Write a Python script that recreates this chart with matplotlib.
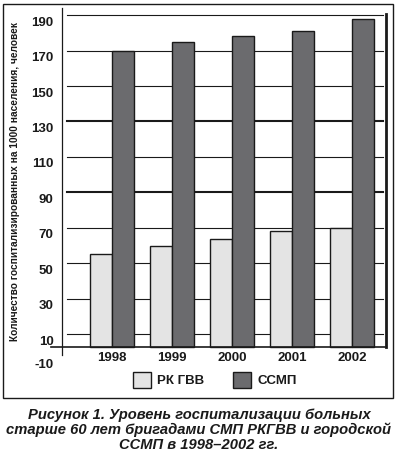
import matplotlib.pyplot as plt
import matplotlib.transforms as mtransforms
from matplotlib.patches import Rectangle, Patch

# Data
years = ['1998', '1999', '2000', '2001', '2002']
rk_gvv = [55, 60, 64, 68, 70]
ssmp = [170, 175, 178, 181, 188]
yticks = [10, 30, 50, 70, 90, 110, 130, 150, 170, 190]
thick_grid = [90, 130]
series_names = ['РК ГВВ', 'ССМП']
caption = ('Рисунок 1. Уровень госпитализации больных\n'
           'старше 60 лет бригадами СМП РКГВВ и городской\n'
           'ССМП в 1998–2002 гг.')
ylabel = 'Количество госпитализированных на 1000 населения, человек'

light = '#e4e4e4'
dark = '#6b6b6e'
ink = '#1a1a1a'
base = 2.7  # where the category axis crosses

plt.rcParams['font.family'] = ['Liberation Sans', 'DejaVu Sans']

W, H = 398, 454
fig = plt.figure(figsize=(W / 100, H / 100), dpi=100)
ax = fig.add_axes([62 / W, 1 - 355 / H, (386 - 62) / W, (355 - 8) / H])
ax.set_xlim(-0.833, 4.567)
ax.set_ylim(-1.7, 194)
for s in ax.spines.values():
    s.set_visible(False)
ax.patch.set_alpha(0)

# grid lines
for t in yticks:
    lw = 1.5 if t in thick_grid else 0.8
    ax.plot([-0.75, 4.52], [t, t], color=ink, lw=lw, zorder=1)

# bars
x = list(range(len(years)))
w = 0.36
ax.bar([i - w / 2 for i in x], [v - base for v in rk_gvv], w, bottom=base,
       color=light, edgecolor=ink, linewidth=1.0, zorder=2, label=series_names[0])
ax.bar([i + w / 2 for i in x], [v - base for v in ssmp], w, bottom=base,
       color=dark, edgecolor=ink, linewidth=1.0, zorder=2, label=series_names[1])

# axis lines
ax.plot([-1.02, 4.55], [base, base], color=ink, lw=1.2, clip_on=False, zorder=3)
ax.plot([-0.833, -0.833], [-1.7, 194], color=ink, lw=0.9, clip_on=False, zorder=3)
ax.plot([4.567, 4.567], [base, 190.5], color=ink, lw=2.0, clip_on=False, zorder=3)

# y tick labels, shifted a bit below their grid lines
ax.set_yticks(yticks)
ax.set_yticklabels([str(t) for t in yticks], fontsize=9.5, fontweight='bold', color=ink)
ax.tick_params(axis='y', length=0, pad=6)
off = mtransforms.ScaledTranslation(0, -6 / 100, fig.dpi_scale_trans)
for lab in ax.get_yticklabels():
    lab.set_transform(lab.get_transform() + off)
ax.text(-0.833, -7.3, '-10', transform=ax.transData + mtransforms.ScaledTranslation(-8 / 100, 0, fig.dpi_scale_trans),
        ha='right', va='center', fontsize=9.5, fontweight='bold', color=ink, clip_on=False)

# category labels
ax.set_xticks([])
for i, yr in enumerate(years):
    ax.annotate(yr, (i, base), xytext=(0, -3.5), textcoords='offset points',
                ha='center', va='top', fontsize=9.5, fontweight='bold', color=ink,
                annotation_clip=False)

fig.text(15 / W, 1 - 182 / H, ylabel, rotation=90, ha='center', va='center',
         fontsize=7.3, color=ink, fontweight='bold')

# legend
handles = [Patch(facecolor=light, edgecolor=ink, lw=1.0),
           Patch(facecolor=dark, edgecolor=ink, lw=1.0)]
fig.legend(handles, series_names, loc='center', bbox_to_anchor=(215 / W, 1 - 380 / H),
           ncol=2, frameon=False, handlelength=1.3, handleheight=1.4,
           columnspacing=2.2, handletextpad=0.5,
           prop={'size': 9.5, 'weight': 'bold'}, labelcolor=ink)

# outer frame
fig.patches.append(Rectangle((3 / W, 1 - 398 / H), 390 / W, 394 / H,
                             transform=fig.transFigure, fill=False,
                             edgecolor=ink, lw=1.0))

fig.text(0.5, 1 - 430 / H, caption, ha='center', va='center', fontsize=10.6,
         fontweight='bold', fontstyle='italic', color=ink, linespacing=1.08)

fig.savefig('out.png', dpi=100)
